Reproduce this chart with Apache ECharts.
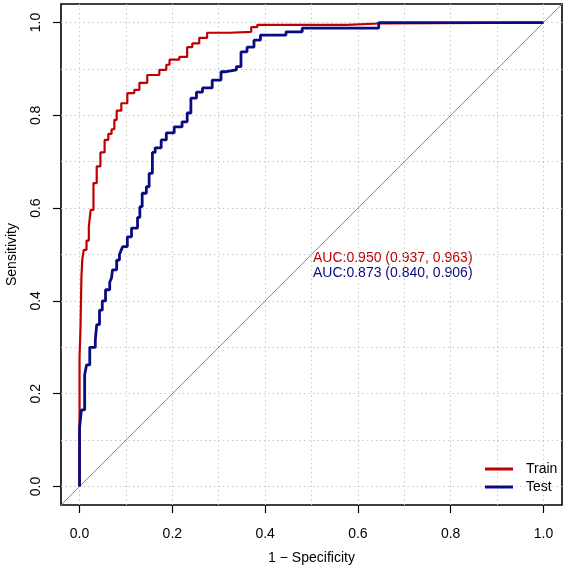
<!DOCTYPE html>
<html>
<head>
<meta charset="utf-8">
<title>ROC curves</title>
<script src="https://cdn.jsdelivr.net/npm/echarts@6/dist/echarts.min.js"></script>
<style>
  html, body { margin: 0; padding: 0; background: #fff; }
  #chart { width: 567px; height: 573px; }
</style>
</head>
<body>
<div id="chart"></div>
<script>
// axis range (R style 4% padding) and tick positions
const axisRange = [-0.04, 1.04]
const tickValues = [0, 0.2, 0.4, 0.6, 0.8, 1.0]
const gridValues = [0, 0.1, 0.2, 0.3, 0.4, 0.5, 0.6, 0.7, 0.8, 0.9, 1.0]

// Train ROC (1 - specificity, sensitivity)
const trainFpr = [0, 0, 0.002, 0.004, 0.006, 0.009, 0.015, 0.02, 0.024, 0.03,
  0.037, 0.045, 0.054, 0.062, 0.069, 0.075, 0.08, 0.09, 0.103, 0.118,
  0.129, 0.146, 0.172, 0.187, 0.194, 0.215, 0.232, 0.243, 0.258, 0.275,
  0.323, 0.37, 0.383, 0.576, 0.645, 1.0]
const trainTpr = [0, 0.28, 0.34, 0.45, 0.49, 0.51, 0.53, 0.56, 0.596, 0.654,
  0.69, 0.72, 0.747, 0.76, 0.77, 0.79, 0.81, 0.826, 0.848, 0.855,
  0.87, 0.887, 0.898, 0.909, 0.92, 0.926, 0.947, 0.955, 0.967, 0.978,
  0.98, 0.99, 0.995, 0.998, 1.0, 1.0]

// Test ROC
const testFpr = [0, 0, 0.004, 0.011, 0.015, 0.022, 0.034, 0.037, 0.043, 0.049,
  0.056, 0.065, 0.069, 0.071, 0.08, 0.086, 0.09, 0.093, 0.103, 0.112,
  0.125, 0.13, 0.135, 0.144, 0.15, 0.157, 0.163, 0.176, 0.187, 0.204,
  0.221, 0.232, 0.24, 0.252, 0.265, 0.286, 0.305, 0.316, 0.338, 0.348,
  0.361, 0.376, 0.39, 0.445, 0.48, 0.645, 1.0]
const testTpr = [0, 0.127, 0.165, 0.24, 0.262, 0.30, 0.316, 0.349, 0.38, 0.40,
  0.424, 0.44, 0.45, 0.467, 0.488, 0.50, 0.51, 0.517, 0.538, 0.557,
  0.58, 0.603, 0.632, 0.646, 0.675, 0.72, 0.73, 0.747, 0.762, 0.775,
  0.786, 0.805, 0.837, 0.85, 0.859, 0.876, 0.894, 0.898, 0.905, 0.937,
  0.947, 0.962, 0.973, 0.98, 0.988, 1.0, 1.0]

const aucLabels = ['AUC:0.950 (0.937, 0.963)', 'AUC:0.873 (0.840, 0.906)']
const seriesNames = ['Train', 'Test']
const colors = ['#C00000', '#0A0A82']

const zip = (xs, ys) => xs.map((x, i) => [x, ys[i]])

const chart = echarts.init(document.getElementById('chart'))

const font = 'Liberation Sans, Arial, sans-serif'

function axis(name, isY) {
  return {
    type: 'value',
    min: axisRange[0],
    max: axisRange[1],
    name: name,
    nameLocation: 'middle',
    nameGap: isY ? 42 : 46,
    nameTextStyle: { color: '#000', fontSize: 14, fontFamily: font },
    axisLine: { show: false, onZero: false },
    axisTick: { show: true, length: 8, customValues: tickValues, lineStyle: { color: '#000', width: 1.2 } },
    axisLabel: {
      customValues: tickValues,
      color: '#000',
      fontSize: 14,
      fontFamily: font,
      margin: isY ? 18 : 22,
      rotate: isY ? 90 : 0,
      formatter: v => v.toFixed(1)
    },
    splitLine: { show: false }
  }
}

const gridLineStyle = { color: '#c8c8c8', type: [1.5, 3], width: 1 }

const option = {
  animation: false,
  backgroundColor: '#fff',
  grid: {
    left: 61, right: 5, top: 4, bottom: 68,
    outerBoundsMode: 'none',
    show: true, borderColor: '#000', borderWidth: 1.6, backgroundColor: 'transparent'
  },
  xAxis: axis('1 \u2212 Specificity', false),
  yAxis: axis('Sensitivity', true),
  legend: {
    data: seriesNames,
    orient: 'vertical',
    left: 485,
    top: 462,
    padding: 0,
    icon: 'rect',
    itemWidth: 28,
    itemHeight: 3,
    itemGap: 4,
    textStyle: { color: '#000', fontSize: 14, fontFamily: font, lineHeight: 14, padding: [0, 0, 0, 8] }
  },
  graphic: [
    { type: 'text', left: 313, top: 251, style: { text: aucLabels[0], fill: colors[0], font: '14px ' + font } },
    { type: 'text', left: 313, top: 266, style: { text: aucLabels[1], fill: colors[1], font: '14px ' + font } }
  ],
  series: [
    {
      // dotted grid + diagonal reference line
      type: 'line',
      data: zip(axisRange, axisRange),
      symbol: 'none',
      silent: true,
      z: 1,
      lineStyle: { color: '#8c8c8c', width: 1 },
      markLine: {
        silent: true,
        symbol: 'none',
        z: 1,
        label: { show: false },
        lineStyle: gridLineStyle,
        data: gridValues.map(v => ({ xAxis: v })).concat(gridValues.map(v => ({ yAxis: v })))
      }
    },
    {
      name: seriesNames[0],
      type: 'line',
      step: 'end',
      data: zip(trainFpr, trainTpr),
      symbol: 'none',
      z: 3,
      itemStyle: { color: colors[0] },
      lineStyle: { color: colors[0], width: 2.2 }
    },
    {
      name: seriesNames[1],
      type: 'line',
      step: 'end',
      data: zip(testFpr, testTpr),
      symbol: 'none',
      z: 4,
      itemStyle: { color: colors[1] },
      lineStyle: { color: colors[1], width: 2.8 }
    }
  ]
}

chart.setOption(option)
</script>
</body>
</html>
